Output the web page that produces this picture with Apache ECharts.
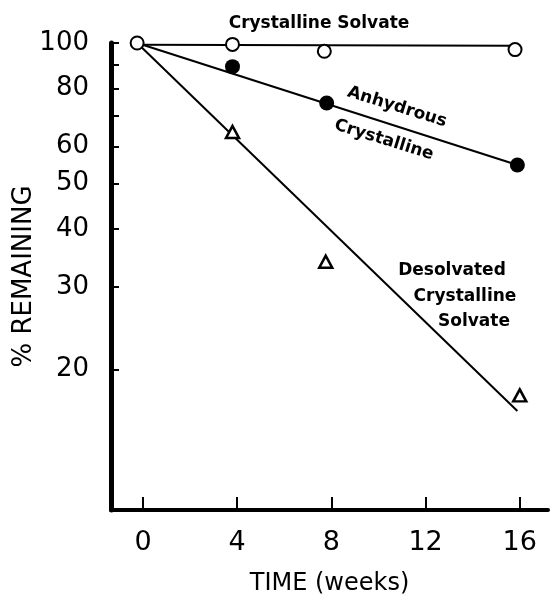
<!DOCTYPE html>
<html>
<head>
<meta charset="utf-8">
<script src="https://cdn.jsdelivr.net/npm/echarts@6/dist/echarts.min.js"></script>
<style>
  html,body{margin:0;padding:0;background:#fff;}
  #chart{width:550px;height:594px;}
</style>
</head>
<body>
<div id="chart"></div>
<script>
    // tick labels
    const xTicks=[0,4,8,12,16]
    const yTicks=[20,30,40,50,60,70,80,90,100]
    const yLabels=[20,30,40,50,60,80,100]

    // measured points [weeks, % remaining]
    const solvatePts=[[-0.25,100],[3.8,99.3],[7.7,96],[15.8,96.8]]
    const anhydrousPts=[[3.8,89],[7.8,74.4],[15.9,54.8]]
    const desolvatedPts=[[3.8,64.5],[7.76,34],[16.0,17.6]]

    // fitted lines
    const solvateFit=[[-0.25,99.2],[15.8,98.6]]
    const anhydrousFit=[[-0.25,100],[15.9,54.8]]
    const desolvatedFit=[[-0.25,100],[15.9,16.3]]

    const font='DejaVu Sans'
    const ink='#000'

    const mychart=echarts.init(document.getElementById('chart'))

    const fitLine=(data)=>({
        type:'line',
        data:data,
        symbol:'none',
        z:2,
        lineStyle:{color:ink,width:2}
    })

    mychart.setOption({
        animation:false,
        grid:{left:111,right:2,top:43,bottom:84,outerBoundsMode:'none'},
        xAxis:{
            type:'value',
            min:-1.36,
            max:17.2,
            name:'TIME (weeks)',
            nameLocation:'middle',
            nameGap:62,
            nameTextStyle:{color:ink,fontFamily:font,fontSize:24},
            splitLine:{show:false},
            axisLine:{show:true,onZero:false,lineStyle:{color:ink,width:4}},
            axisTick:{show:true,inside:true,length:13,customValues:xTicks,lineStyle:{color:ink,width:2}},
            axisLabel:{customValues:xTicks,color:ink,fontFamily:font,fontSize:27,margin:19}
        },
        yAxis:{
            type:'log',
            logBase:10,
            min:10,
            max:100,
            name:'% REMAINING',
            nameLocation:'middle',
            nameGap:74,
            nameMoveOverlap:false,
            nameRotate:90,
            nameTextStyle:{color:ink,fontFamily:font,fontSize:26},
            splitLine:{show:false},
            axisLine:{show:true,onZero:false,lineStyle:{color:ink,width:5}},
            axisTick:{show:true,inside:true,length:8,customValues:yTicks,lineStyle:{color:ink,width:2}},
            axisLabel:{customValues:yLabels,color:ink,fontFamily:font,fontSize:26,margin:22}
        },
        series:[
            fitLine(solvateFit),
            fitLine(anhydrousFit),
            fitLine(desolvatedFit),
            {
                type:'scatter',
                data:solvatePts,
                symbol:'circle',
                symbolSize:13,
                z:5,
                itemStyle:{color:'#fff',borderColor:ink,borderWidth:2,opacity:1}
            },
            {
                type:'scatter',
                data:anhydrousPts,
                symbol:'circle',
                symbolSize:15,
                z:5,
                itemStyle:{color:ink,opacity:1}
            },
            {
                type:'scatter',
                data:desolvatedPts,
                symbol:'triangle',
                symbolSize:[13,12],
                z:5,
                itemStyle:{color:'#fff',borderColor:ink,borderWidth:2.5,opacity:1}
            }
        ],
        graphic:[
            {type:'text',x:319,y:24,style:{text:'Crystalline Solvate',fill:ink,font:'bold 17px "DejaVu Sans"',align:'center',verticalAlign:'middle'}},
            {type:'text',x:397,y:107,rotation:-0.3,style:{text:'Anhydrous',fill:ink,font:'bold 17px "DejaVu Sans"',align:'center',verticalAlign:'middle'}},
            {type:'text',x:384,y:140,rotation:-0.3,style:{text:'Crystalline',fill:ink,font:'bold 17px "DejaVu Sans"',align:'center',verticalAlign:'middle'}},
            {type:'text',x:452,y:271,style:{text:'Desolvated',fill:ink,font:'bold 17px "DejaVu Sans"',align:'center',verticalAlign:'middle'}},
            {type:'text',x:465,y:297,style:{text:'Crystalline',fill:ink,font:'bold 17px "DejaVu Sans"',align:'center',verticalAlign:'middle'}},
            {type:'text',x:474,y:322,style:{text:'Solvate',fill:ink,font:'bold 17px "DejaVu Sans"',align:'center',verticalAlign:'middle'}}
        ]
    })
</script>
</body>
</html>
